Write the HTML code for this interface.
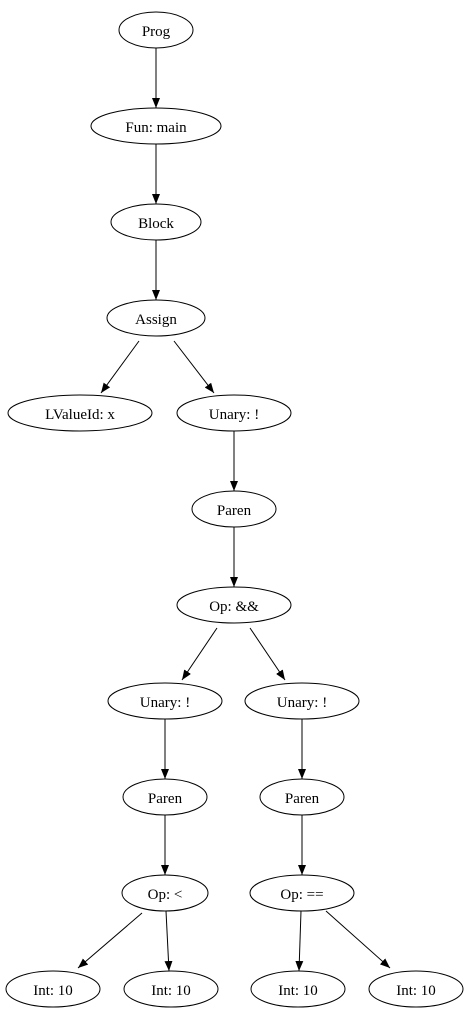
<!DOCTYPE html>
<html><head><meta charset="utf-8"><style>
html,body{margin:0;padding:0;background:#fff;}
svg{display:block;}
text{font-family:"Liberation Serif",serif;font-size:15px;fill:#000;}
</style></head><body>
<svg width="469" height="1019" viewBox="0 0 469 1019" xmlns="http://www.w3.org/2000/svg">
<defs>
<marker id="a" markerWidth="10" markerHeight="8" refX="10" refY="4" orient="auto" markerUnits="userSpaceOnUse">
<polygon points="0,0 10,4 0,8" fill="#000"/>
</marker>
</defs>
<g fill="none" stroke="#000" stroke-width="1">
<ellipse cx="156" cy="30" rx="37" ry="18"/>
<ellipse cx="156" cy="126" rx="65" ry="18"/>
<ellipse cx="156" cy="222" rx="45" ry="18"/>
<ellipse cx="156" cy="318" rx="49" ry="18"/>
<ellipse cx="80" cy="413" rx="72" ry="18"/>
<ellipse cx="234" cy="413" rx="57" ry="18"/>
<ellipse cx="234" cy="509" rx="42" ry="18"/>
<ellipse cx="234" cy="605" rx="57" ry="18"/>
<ellipse cx="165" cy="701" rx="57" ry="18"/>
<ellipse cx="302" cy="701" rx="57" ry="18"/>
<ellipse cx="165" cy="797" rx="42" ry="18"/>
<ellipse cx="302" cy="797" rx="42" ry="18"/>
<ellipse cx="165" cy="893" rx="43" ry="18"/>
<ellipse cx="302" cy="893" rx="52" ry="18"/>
<ellipse cx="53" cy="989" rx="47" ry="18"/>
<ellipse cx="171" cy="989" rx="47" ry="18"/>
<ellipse cx="298" cy="989" rx="47" ry="18"/>
<ellipse cx="416" cy="989" rx="47" ry="18"/>
</g>
<g stroke="#000" stroke-width="1" marker-end="url(#a)">
<line x1="156" y1="48" x2="156" y2="108"/>
<line x1="156" y1="144" x2="156" y2="204"/>
<line x1="156" y1="240" x2="156" y2="300"/>
<line x1="139" y1="341" x2="101" y2="393"/>
<line x1="174" y1="341" x2="214" y2="393"/>
<line x1="234" y1="431" x2="234" y2="491"/>
<line x1="234" y1="527" x2="234" y2="587"/>
<line x1="217" y1="628" x2="182" y2="680"/>
<line x1="250" y1="628" x2="285" y2="680"/>
<line x1="165" y1="719" x2="165" y2="779"/>
<line x1="302" y1="719" x2="302" y2="779"/>
<line x1="165" y1="815" x2="165" y2="875"/>
<line x1="302" y1="815" x2="302" y2="875"/>
<line x1="142" y1="913" x2="78" y2="968"/>
<line x1="166" y1="911" x2="169" y2="971"/>
<line x1="301" y1="911" x2="299" y2="971"/>
<line x1="326" y1="911" x2="390" y2="968"/>
</g>
<g text-anchor="middle">
<text x="156" y="36">Prog</text>
<text x="156" y="132">Fun: main</text>
<text x="156" y="228">Block</text>
<text x="156" y="324">Assign</text>
<text x="80" y="419">LValueId: x</text>
<text x="234" y="419">Unary: !</text>
<text x="234" y="515">Paren</text>
<text x="234" y="611">Op: &amp;&amp;</text>
<text x="165" y="707">Unary: !</text>
<text x="302" y="707">Unary: !</text>
<text x="165" y="803">Paren</text>
<text x="302" y="803">Paren</text>
<text x="165" y="899">Op: &lt;</text>
<text x="302" y="899">Op: ==</text>
<text x="53" y="995">Int: 10</text>
<text x="171" y="995">Int: 10</text>
<text x="298" y="995">Int: 10</text>
<text x="416" y="995">Int: 10</text>
</g>
</svg>
</body></html>
